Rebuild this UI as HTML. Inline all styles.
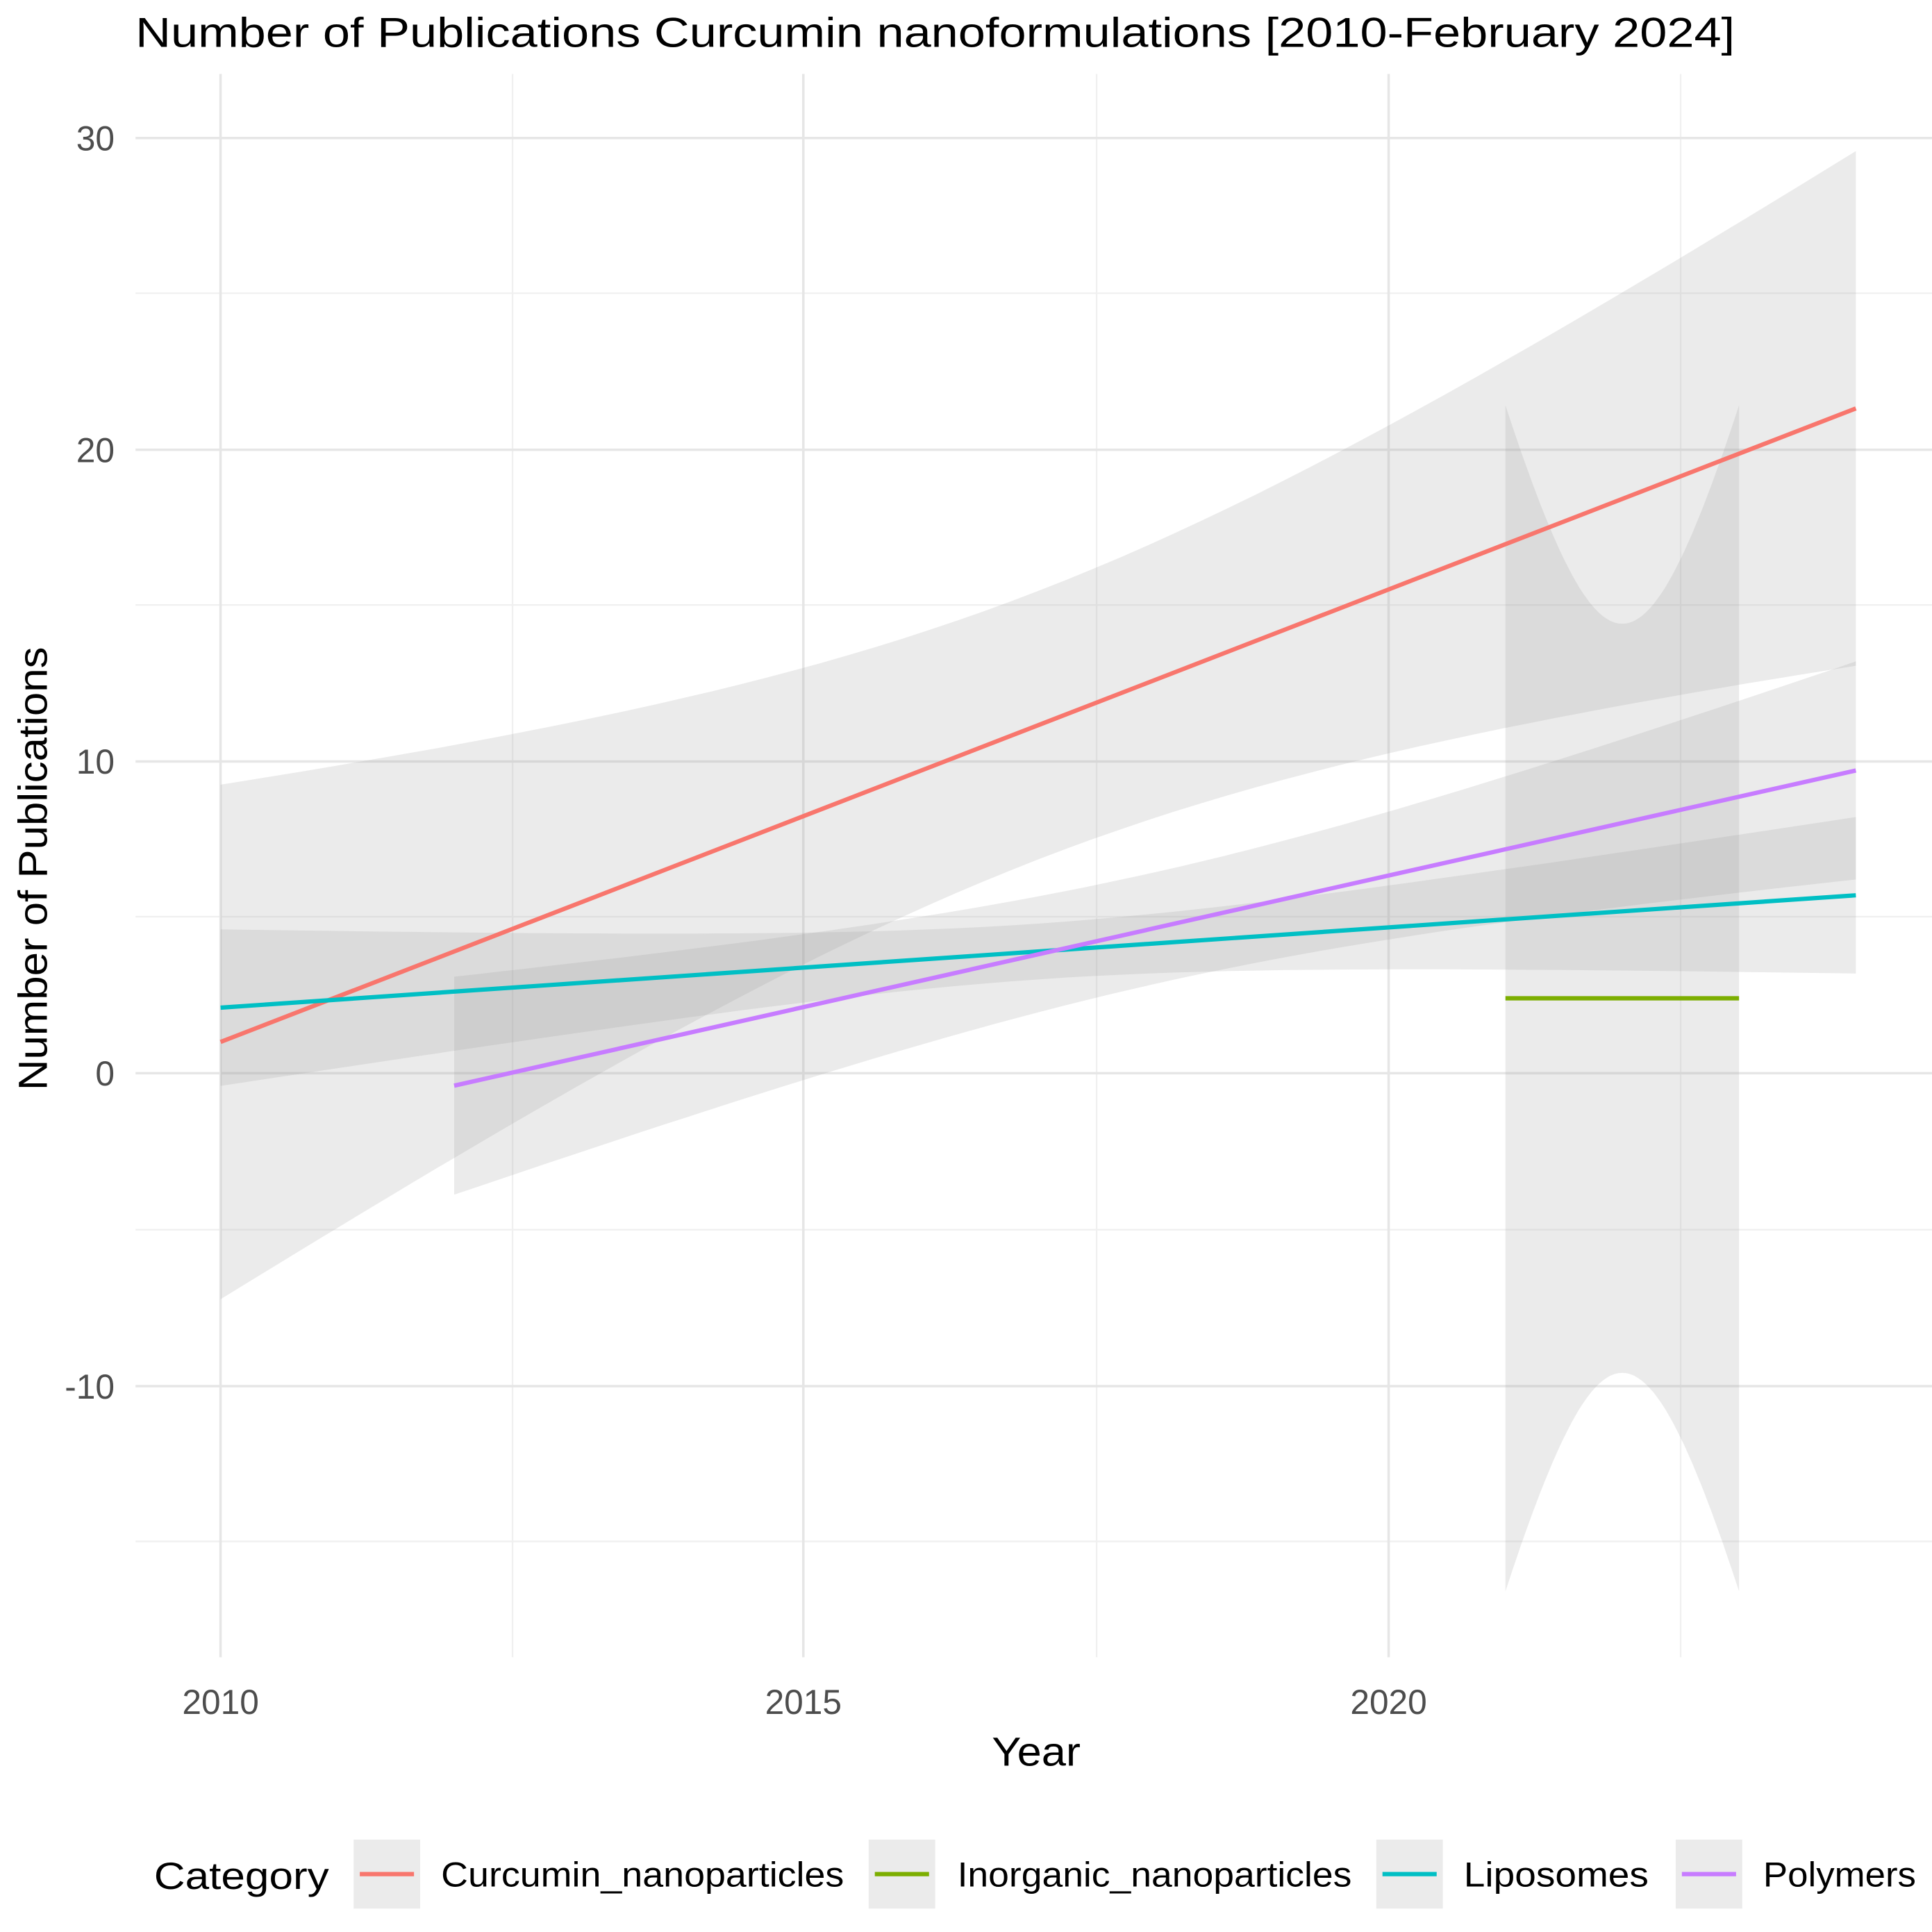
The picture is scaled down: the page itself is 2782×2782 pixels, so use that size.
<!DOCTYPE html>
<html><head><meta charset="utf-8"><style>
html,body{margin:0;padding:0;background:#fff}
svg{display:block}
text{font-family:"Liberation Sans",Arial,sans-serif}
</style></head><body>
<svg id="s" width="2782" height="2782" viewBox="0 0 1568 1568" xmlns="http://www.w3.org/2000/svg">
<rect width="1568" height="1568" fill="#fff"/>
<g id="grid"></g>
<g id="bands"></g>
<g id="lines"></g>
<text x="110" y="38" font-size="34" fill="#000" textLength="1298" lengthAdjust="spacingAndGlyphs">Number of Publications Curcumin nanoformulations [2010-February 2024]</text>
<g font-size="28" fill="#4d4d4d">
<text x="93" y="122" text-anchor="end">30</text>
<text x="93" y="375" text-anchor="end">20</text>
<text x="93" y="628" text-anchor="end">10</text>
<text x="93" y="881" text-anchor="end">0</text>
<text x="93" y="1135" text-anchor="end">-10</text>
<text x="179" y="1391" text-anchor="middle">2010</text>
<text x="652" y="1391" text-anchor="middle">2015</text>
<text x="1127" y="1391" text-anchor="middle">2020</text>
</g>
<text x="805" y="1433" font-size="33" textLength="72" lengthAdjust="spacingAndGlyphs">Year</text>
<text transform="translate(38,885) rotate(-90)" font-size="33" textLength="360" lengthAdjust="spacingAndGlyphs">Number of Publications</text>
<text x="125" y="1533" font-size="31" textLength="142" lengthAdjust="spacingAndGlyphs">Category</text>
<g font-size="28" fill="#000">
<rect x="287" y="1493" width="54" height="56" fill="#ebebeb"/>
<line x1="292" y1="1521" x2="336" y2="1521" stroke="#F8766D" stroke-width="3.5"/>
<text x="358" y="1531" textLength="327" lengthAdjust="spacingAndGlyphs">Curcumin_nanoparticles</text>
<rect x="705" y="1493" width="54" height="56" fill="#ebebeb"/>
<line x1="710" y1="1521" x2="754" y2="1521" stroke="#7CAE00" stroke-width="3.5"/>
<text x="777" y="1531" textLength="320" lengthAdjust="spacingAndGlyphs">Inorganic_nanoparticles</text>
<rect x="1117" y="1493" width="54" height="56" fill="#ebebeb"/>
<line x1="1122" y1="1521" x2="1166" y2="1521" stroke="#00BFC4" stroke-width="3.5"/>
<text x="1188" y="1531" textLength="150" lengthAdjust="spacingAndGlyphs">Liposomes</text>
<rect x="1360" y="1493" width="54" height="56" fill="#ebebeb"/>
<line x1="1365" y1="1521" x2="1409" y2="1521" stroke="#C77CFF" stroke-width="3.5"/>
<text x="1431" y="1531" textLength="124" lengthAdjust="spacingAndGlyphs">Polymers</text>
</g>
</svg>
<script>
var X=function(y){return 179+(y-2010)*94.8;};
var Y=function(v){return 871-v*25.33;};
var g=document.getElementById('grid'),b=document.getElementById('bands'),l=document.getElementById('lines');
var h='';
[238,491,744,998,1251].forEach(function(y){h+='<line x1="110" x2="1568" y1="'+y+'" y2="'+y+'" stroke="#f0f0f0" stroke-width="1.3"/>';});
[416,890,1364].forEach(function(x){h+='<line y1="60" y2="1345" x1="'+x+'" x2="'+x+'" stroke="#f0f0f0" stroke-width="1.3"/>';});
[112,365,618,871,1125].forEach(function(y){h+='<line x1="110" x2="1568" y1="'+y+'" y2="'+y+'" stroke="#e6e6e6" stroke-width="2"/>';});
[179,652,1127].forEach(function(x){h+='<line y1="60" y2="1345" x1="'+x+'" x2="'+x+'" stroke="#e6e6e6" stroke-width="2"/>';});
g.innerHTML=h;
var series=[
 {x0:2010,x1:2024,v0:1.0,v1:21.3,a:18.5,k:1.01,xm:2017,c:'#F8766D'},
 {x0:2021,x1:2023,v0:2.4,v1:2.4,a:144,k:217,xm:2022,c:'#7CAE00'},
 {x0:2010,x1:2024,v0:2.1,v1:5.7,a:0.8,k:0.112,xm:2017,c:'#00BFC4'},
 {x0:2012,x1:2024,v0:-0.4,v1:9.7,a:3.2,k:0.25,xm:2018,c:'#C77CFF'}
];
var bh='',lh='';
series.forEach(function(s){
 var up=[],dn=[],N=60;
 for(var i=0;i<=N;i++){var x=s.x0+(s.x1-s.x0)*i/N;var c=s.v0+(s.v1-s.v0)*(x-s.x0)/(s.x1-s.x0);var hw=Math.sqrt(s.a+s.k*(x-s.xm)*(x-s.xm));
 up.push(X(x).toFixed(1)+','+Y(c+hw).toFixed(1));dn.unshift(X(x).toFixed(1)+','+Y(c-hw).toFixed(1));}
 bh+='<polygon points="'+up.concat(dn).join(' ')+'" fill="#999" fill-opacity="0.2"/>';
 lh+='<line x1="'+X(s.x0)+'" y1="'+Y(s.v0)+'" x2="'+X(s.x1)+'" y2="'+Y(s.v1)+'" stroke="'+s.c+'" stroke-width="3.5"/>';
});
b.innerHTML=bh;l.innerHTML=lh;
document.getElementById('s').innerHTML=document.getElementById('s').innerHTML;
</script>
</body></html>
